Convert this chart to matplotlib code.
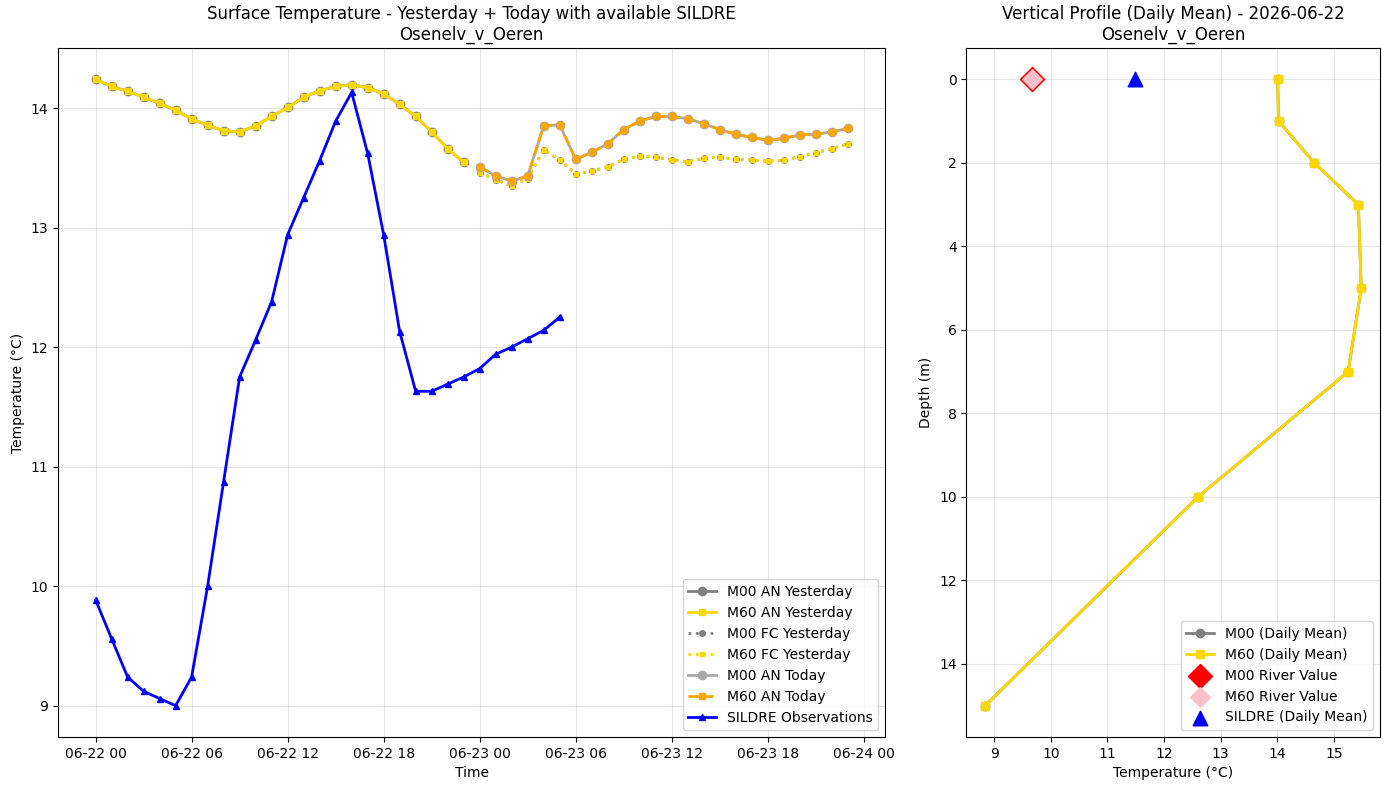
import numpy as np
import pandas as pd
import matplotlib
matplotlib.use("Agg")
import matplotlib.pyplot as plt
import matplotlib.dates as mdates

station = "Osenelv_v_Oeren"
day = "2026-06-22"

# Yesterday analysis (hours 0..23 of 06-22)
an_yesterday = [14.24, 14.18, 14.14, 14.09, 14.04, 13.98, 13.91, 13.855, 13.81, 13.80,
                13.85, 13.93, 14.005, 14.09, 14.145, 14.18, 14.195, 14.17, 14.12, 14.03,
                13.93, 13.80, 13.66, 13.545]
# Yesterday forecast (hours 24..47)
fc_yesterday = [13.46, 13.40, 13.35, 13.41, 13.65, 13.565, 13.45, 13.47, 13.51, 13.57,
                13.60, 13.59, 13.565, 13.55, 13.58, 13.59, 13.57, 13.565, 13.555, 13.565,
                13.59, 13.625, 13.66, 13.70]
# Today analysis (hours 24..47)
an_today = [13.51, 13.43, 13.39, 13.43, 13.85, 13.86, 13.57, 13.63, 13.70, 13.82,
            13.89, 13.93, 13.93, 13.91, 13.87, 13.82, 13.78, 13.755, 13.73, 13.745,
            13.775, 13.78, 13.80, 13.83]
# SILDRE observations (hours 0..29)
sildre = [9.885, 9.56, 9.24, 9.12, 9.06, 9.00, 9.24, 10.00, 10.875, 11.75,
          12.06, 12.38, 12.94, 13.25, 13.56, 13.89, 14.13, 13.62, 12.94, 12.13,
          11.63, 11.63, 11.69, 11.75, 11.82, 11.94, 12.00, 12.07, 12.14, 12.25]

# Vertical profile
depths = [0, 1, 2, 3, 5, 7, 10, 15]
profile_m00 = [14.005, 14.02, 14.65, 15.43, 15.48, 15.25, 12.60, 8.84]
profile_m60 = [14.005, 14.02, 14.65, 15.43, 15.48, 15.25, 12.60, 8.84]
river_m00 = 9.67
river_m60 = 9.67
sildre_mean = 11.48

start = pd.Timestamp("2026-06-22 00:00")
t_yest = pd.date_range(start, periods=len(an_yesterday), freq="h")
t_fc = pd.date_range(start + pd.Timedelta(hours=24), periods=len(fc_yesterday), freq="h")
t_today = pd.date_range(start + pd.Timedelta(hours=24), periods=len(an_today), freq="h")
t_obs = pd.date_range(start, periods=len(sildre), freq="h")

fig, (ax1, ax2) = plt.subplots(1, 2, figsize=(13.89, 7.9), dpi=100,
                               gridspec_kw={"width_ratios": [2, 1]})
fig.subplots_adjust(left=58 / 1389, right=1380 / 1389, top=1 - 48 / 790,
                    bottom=1 - 737 / 790, wspace=0.1305)

ax1.plot(t_yest, an_yesterday, color="gray", marker="o", linestyle="-", linewidth=2,
         markersize=6, label="M00 AN Yesterday")
ax1.plot(t_yest, an_yesterday, color="gold", marker="s", linestyle="-", linewidth=2,
         markersize=5, label="M60 AN Yesterday")
ax1.plot(t_fc, fc_yesterday, color="gray", marker="o", linestyle=":", linewidth=2,
         markersize=4, label="M00 FC Yesterday")
ax1.plot(t_fc, fc_yesterday, color="gold", marker="s", linestyle=":", linewidth=2,
         markersize=3.5, label="M60 FC Yesterday")
ax1.plot(t_today, an_today, color="darkgray", marker="o", linestyle="-", linewidth=2,
         markersize=6, label="M00 AN Today")
ax1.plot(t_today, an_today, color="orange", marker="s", linestyle="--", linewidth=2,
         markersize=5, label="M60 AN Today")
ax1.plot(t_obs, sildre, color="blue", marker="^", linestyle="-", linewidth=2,
         markersize=5, label="SILDRE Observations")

ax1.set_title(f"Surface Temperature - Yesterday + Today with available SILDRE\n{station}")
ax1.set_xlabel("Time")
ax1.set_ylabel("Temperature (°C)")
ax1.grid(True, alpha=0.3)
ax1.legend(loc="lower right")
ax1.xaxis.set_major_locator(mdates.HourLocator(byhour=[0, 6, 12, 18]))
ax1.xaxis.set_major_formatter(mdates.DateFormatter("%m-%d %H"))

ax2.plot(profile_m00, depths, color="gray", marker="o", linestyle="-", linewidth=2,
         markersize=6, label="M00 (Daily Mean)")
ax2.plot(profile_m60, depths, color="gold", marker="s", linestyle="-", linewidth=2,
         markersize=6, label="M60 (Daily Mean)")
ax2.scatter([river_m00], [0], color="red", marker="D", s=150, label="M00 River Value", zorder=5)
ax2.scatter([river_m60], [0], color="pink", marker="D", s=100, label="M60 River Value", zorder=6)
ax2.scatter([sildre_mean], [0], color="blue", marker="^", s=110, label="SILDRE (Daily Mean)", zorder=5)
ax2.invert_yaxis()
ax2.set_title(f"Vertical Profile (Daily Mean) - {day}\n{station}")
ax2.set_xlabel("Temperature (°C)")
ax2.set_ylabel("Depth (m)")
ax2.grid(True, alpha=0.3)
ax2.legend(loc="lower right")

plt.savefig("out.png", dpi=100)
